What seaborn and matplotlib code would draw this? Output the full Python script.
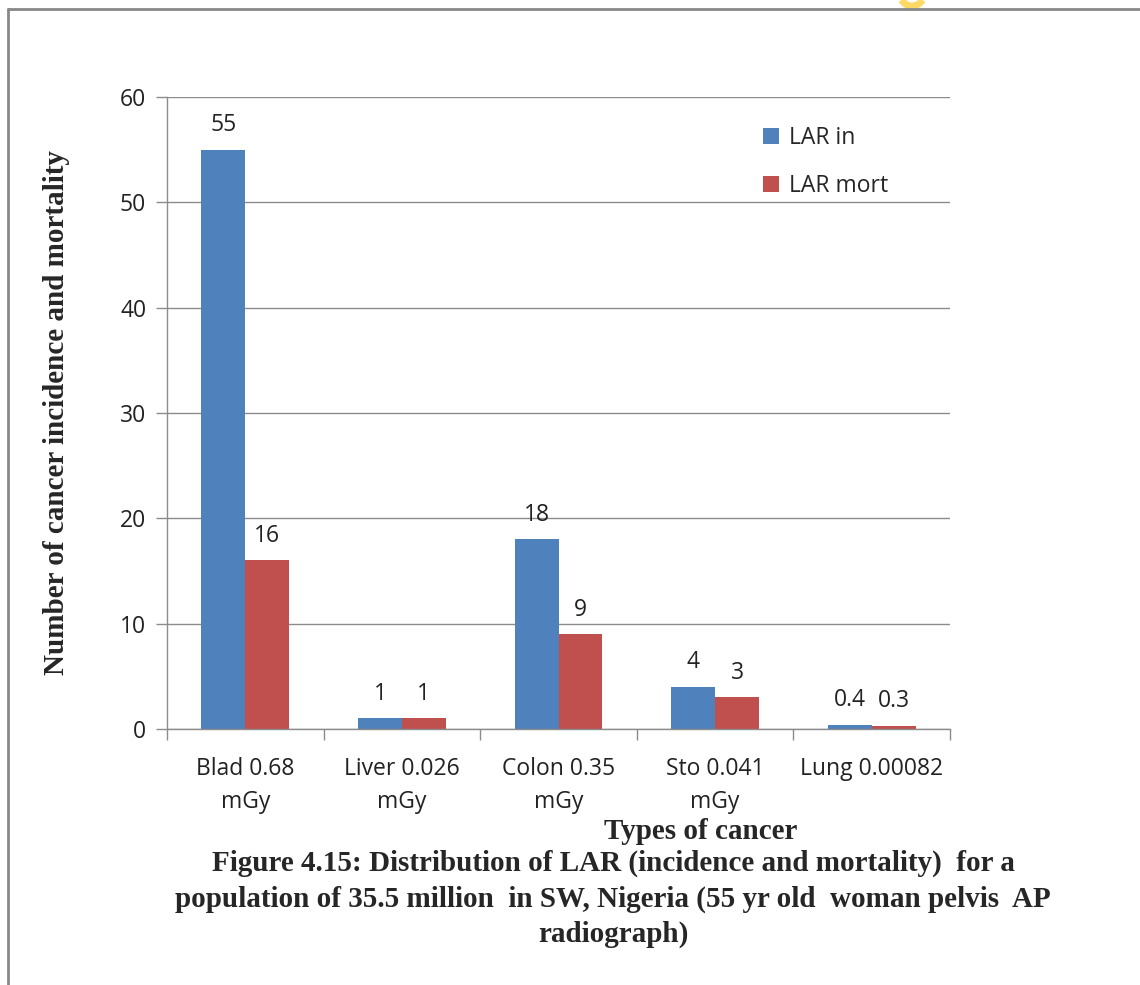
import matplotlib
matplotlib.use("Agg")
import matplotlib.pyplot as plt
from matplotlib.lines import Line2D
from matplotlib.patches import Arc
import seaborn as sns
import pandas as pd
import numpy as np

categories = ["Blad 0.68\nmGy", "Liver 0.026\nmGy", "Colon 0.35\nmGy", "Sto 0.041\nmGy", "Lung 0.00082"]
lar_incidence = [55, 1, 18, 4, 0.4]
lar_mortality = [16, 1, 9, 3, 0.3]
series_names = ["LAR in", "LAR mort"]
y_ticks = [0, 10, 20, 30, 40, 50, 60]

df = pd.DataFrame({
    "category": categories * 2,
    "series": [series_names[0]] * len(categories) + [series_names[1]] * len(categories),
    "value": lar_incidence + lar_mortality,
})

sns.set_style("white")
sans = ["Open Sans", "DejaVu Sans"]
serif = ["Liberation Serif", "DejaVu Serif"]
SANS_SIZE = 16.5
SERIF_SIZE = 21

W, H = 1140, 985
fig = plt.figure(figsize=(W / 100, H / 100), dpi=100)
ax = fig.add_axes([167 / W, 1 - 729 / H, (950 - 167) / W, (729 - 97) / H])

palette = {"LAR in": "#4F81BD", "LAR mort": "#C0504D"}
sns.barplot(data=df, x="category", y="value", hue="series", order=categories,
            hue_order=series_names, palette=palette, width=0.56, ax=ax,
            saturation=1, legend=True, linewidth=0, errorbar=None)

ax.set_ylim(0, 60)
ax.set_xlim(-0.5, len(categories) - 0.5)
ax.set_yticks(y_ticks)
ax.set_yticklabels([str(t) for t in y_ticks], fontfamily=sans, fontsize=SANS_SIZE, color="#222222")
ax.yaxis.grid(True, color="#8c8c8c", linewidth=1)
ax.set_axisbelow(True)
ax.tick_params(axis="y", length=8, width=1, color="#8c8c8c", pad=7, left=True)

# category labels at centers, tick marks at category boundaries
ax.set_xticks(range(len(categories)))
ax.set_xticklabels(categories, fontfamily=sans, fontsize=SANS_SIZE, color="#222222", linespacing=1.5)
ax.tick_params(axis="x", which="major", length=0, pad=20)
ax.set_xticks(np.arange(-0.5, len(categories), 1.0), minor=True)
ax.tick_params(axis="x", which="minor", length=8, width=1, color="#8c8c8c", bottom=True)

for side in ["top", "right"]:
    ax.spines[side].set_visible(False)
for side in ["left", "bottom"]:
    ax.spines[side].set_color("#8c8c8c")
    ax.spines[side].set_linewidth(1)

# value labels above each bar
for container in ax.containers:
    ax.bar_label(container, labels=[f"{v:g}" for v in container.datavalues],
                 padding=9, fontfamily=sans, fontsize=SANS_SIZE, color="#222222")

ax.set_xlabel("Types of cancer", fontfamily=serif, fontsize=SERIF_SIZE, fontweight="bold")
ax.xaxis.set_label_coords(0.681, -0.141)
ax.set_ylabel("Number of cancer incidence and mortality", fontfamily=serif, fontsize=SERIF_SIZE,
              fontweight="bold")
ax.yaxis.set_label_coords(-0.124, 0.5)

handles, labels = ax.get_legend_handles_labels()
leg = ax.legend(handles, labels, loc="upper left", bbox_to_anchor=(0.735, 0.987), frameon=False,
                prop={"family": sans, "size": SANS_SIZE}, handlelength=0.7, handleheight=0.7,
                handletextpad=0.45, labelspacing=1.05)

fig.text(613 / W, 1 - 899 / H,
         "Figure 4.15: Distribution of LAR (incidence and mortality)  for a\n"
         "population of 35.5 million  in SW, Nigeria (55 yr old  woman pelvis  AP\n"
         "radiograph)",
         ha="center", va="center", fontfamily=serif, fontsize=SERIF_SIZE, fontweight="bold",
         linespacing=1.38)

# page frame lines and marker at top edge
fig.add_artist(Line2D([8 / W, 8 / W], [0, 1 - 9 / H], transform=fig.transFigure,
                      color="#888888", linewidth=2))
fig.add_artist(Line2D([8 / W, 1], [1 - 9 / H, 1 - 9 / H], transform=fig.transFigure,
                      color="#888888", linewidth=2))
arc = Arc((912, H + 6), 24, 24, theta1=210, theta2=330, transform=None,
          color="#FFD966", linewidth=5)
fig.add_artist(arc)

fig.savefig("out.png", dpi=100)
